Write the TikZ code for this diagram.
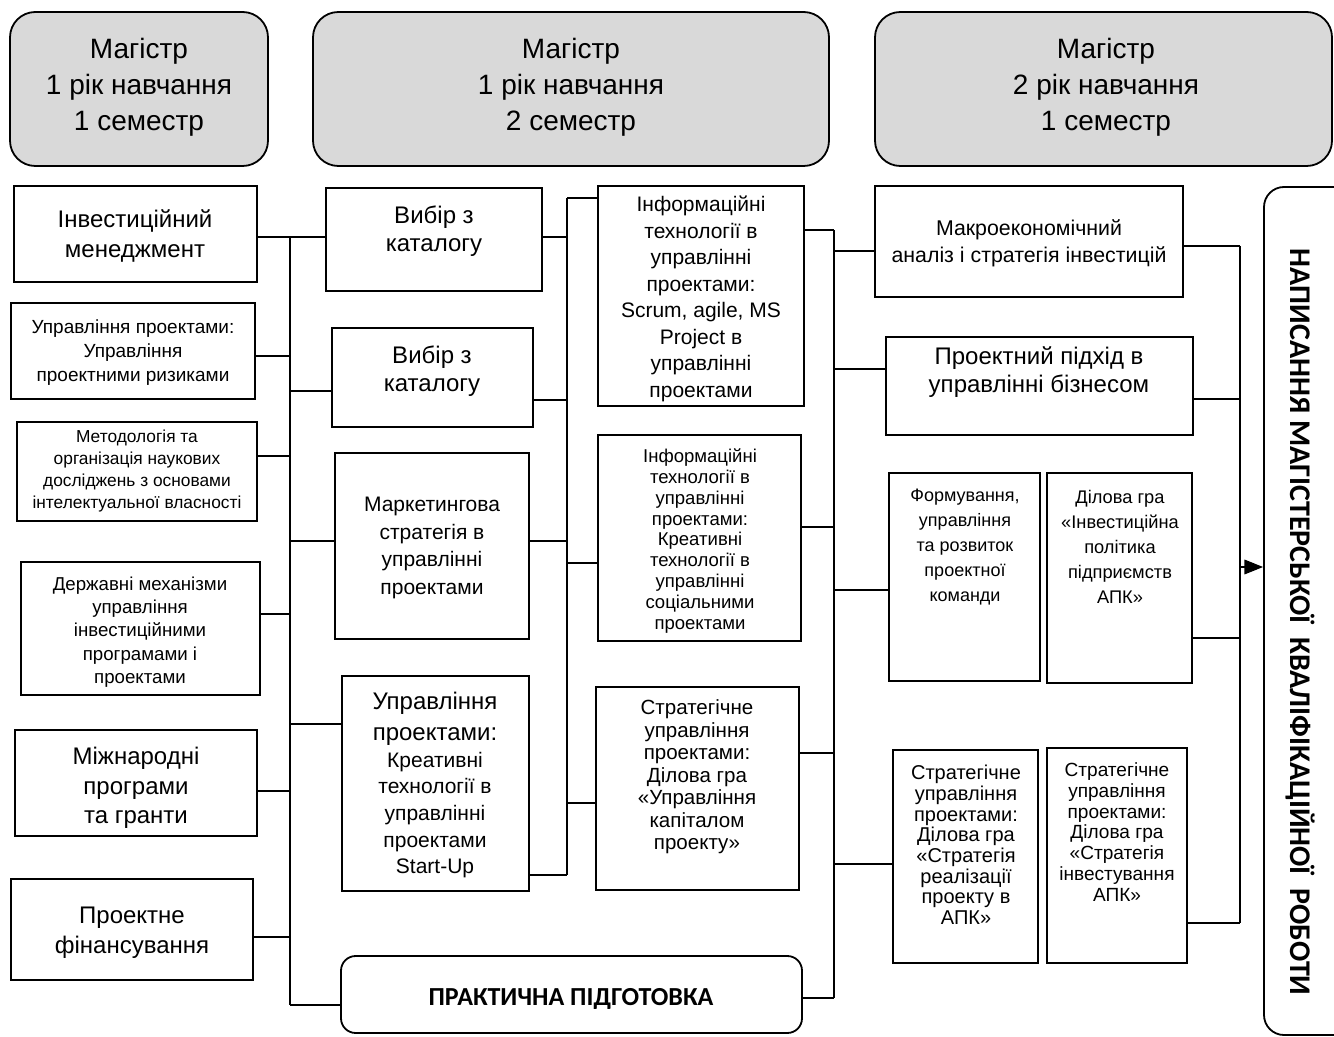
\documentclass[tikz,border=0pt]{standalone}
\usepackage{fontspec}
\setmainfont{Liberation Sans}
\newfontfamily\carl{Carlito}
\usetikzlibrary{arrows.meta}
\definecolor{hdrgray}{HTML}{D9D9D9}
\newcommand\fsz[2]{\fontsize{#1pt}{#2pt}\selectfont}
\newcommand\mkbox[6]{\node[box,#6,minimum width={((#4)-(#2))*0.75pt},minimum height={((#5)-(#3))*0.75pt}] (#1) at ({((#2)+(#4))/2},{((#3)+(#5))/2}) {};}
\tikzset{
  box/.style={draw, line width=1.35pt, inner sep=0pt, rectangle},
  hdr/.style={fill=hdrgray, rounded corners=19pt},
  rnd/.style={rounded corners=11pt},
  txt/.style={align=center, inner sep=0pt, yshift=-1.5pt},
  conn/.style={line width=1.3pt},
  thinc/.style={line width=0.9pt},
}
\begin{document}
\begin{tikzpicture}[x=0.75pt,y=-0.75pt]
\useasboundingbox (0,0) rectangle (1334,1037);
\fill[white] (0,0) rectangle (1334,1037);
\clip (0,0) rectangle (1334,1037);

% headers
\mkbox{H1}{10}{12}{268}{166}{hdr}
\mkbox{H2}{313}{12}{829}{166}{hdr}
\mkbox{H3}{875}{12}{1332}{166}{hdr}
\node[txt,font=\fsz{21}{27}] (tH1) at (139,85) {Магістр\\1 рік навчання\\1 семестр};
\node[txt,font=\fsz{21}{27}] (tH2) at (571,85) {Магістр\\1 рік навчання\\2 семестр};
\node[txt,font=\fsz{21}{27}] (tH3) at (1106,85) {Магістр\\2 рік навчання\\1 семестр};

% left column
\mkbox{L1}{14}{186}{257}{282}{}
\mkbox{L2}{11}{303}{255}{399}{}
\mkbox{L3}{17}{422}{257}{521}{}
\mkbox{L4}{21}{562}{260}{695}{}
\mkbox{L5}{15}{730}{257}{836}{}
\mkbox{L6}{11}{879}{253}{980}{}
\node[txt,font=\fsz{18}{22}] (tL1) at (135,234) {Інвестиційний\\менеджмент};
\node[txt,font=\fsz{14.25}{18}] (tL2) at (133,351) {Управління проектами:\\Управління\\проектними ризиками};
\node[txt,font=\fsz{13}{16.5}] (tL3) at (137,469) {Методологія та\\організація наукових\\досліджень з основами\\інтелектуальної власності};
\node[txt,font=\fsz{14}{17.5}] (tL4) at (140,630) {Державні механізми\\управління\\інвестиційними\\програмами і\\проектами};
\node[txt,font=\fsz{18}{22}] (tL5) at (136,786) {Міжнародні\\програми\\та гранти};
\node[txt,font=\fsz{18}{22.5}] (tL6) at (132,931) {Проектне\\фінансування};

% middle column 1
\mkbox{M1}{326}{188}{542}{291}{}
\mkbox{M2}{332}{328}{533}{427}{}
\mkbox{M3}{335}{453}{529}{639}{}
\mkbox{M4}{342}{676}{529}{891}{}
\mkbox{PR}{341}{956}{802}{1033}{rnd}
\node[txt,font=\fsz{18}{21}] (tM1) at (434,229) {Вибір з\\каталогу};
\node[txt,font=\fsz{18}{21}] (tM2) at (432,369) {Вибір з\\каталогу};
\node[txt,font=\fsz{15.75}{20.6}] (tM3) at (432,546) {Маркетингова\\стратегія в\\управлінні\\проектами};
\node[txt,font=\fsz{18}{23}] (tM4a) at (435,717) {Управління\\проектами:};
\node[txt,font=\fsz{15.75}{20}] (tM4b) at (435,813) {Креативні\\технології в\\управлінні\\проектами\\Start-Up};
\node[txt,font=\carl\bfseries\fsz{19.5}{22}] (tPR) at (571,997) {ПРАКТИЧНА ПІДГОТОВКА};

% middle column 2
\mkbox{I1}{598}{186}{804}{406}{}
\mkbox{I2}{598}{435}{801}{641}{}
\mkbox{I3}{596}{687}{799}{890}{}
\node[txt,font=\fsz{15.75}{19.9}] (tI1) at (701,297) {Інформаційні\\технології в\\управлінні\\проектами:\\Scrum, agile, MS\\Project в\\управлінні\\проектами};
\node[txt,font=\fsz{13.9}{15.6}] (tI2) at (700,539) {Інформаційні\\технології в\\управлінні\\проектами:\\Креативні\\технології в\\управлінні\\соціальними\\проектами};
\node[txt,font=\fsz{15.4}{16.9}] (tI3) at (697,775) {Стратегічне\\управління\\проектами:\\Ділова гра\\«Управління\\капіталом\\проекту»};

% right column
\mkbox{MA}{875}{186}{1183}{297}{}
\mkbox{PB}{886}{337}{1193}{435}{}
\mkbox{F}{889}{473}{1040}{681}{}
\mkbox{D}{1047}{473}{1192}{683}{}
\mkbox{S1}{893}{750}{1038}{963}{}
\mkbox{S2}{1047}{748}{1187}{963}{}
\node[txt,font=\fsz{16}{20}] (tMA) at (1029,241) {Макроекономічний\\аналіз і стратегія інвестицій};
\node[txt,font=\fsz{18}{21}] (tPB) at (1039,370) {Проектний підхід в\\управлінні бізнесом};
\node[txt,font=\fsz{13.5}{18.75}] (tF) at (965,545) {Формування,\\управління\\та розвиток\\проектної\\команди};
\node[txt,font=\fsz{13.7}{18.75}] (tD) at (1120,545) {Ділова гра\\«Інвестиційна\\політика\\підприємств\\АПК»};
\node[txt,font=\fsz{15}{15.5}] (tS1) at (966,843) {Стратегічне\\управління\\проектами:\\Ділова гра\\«Стратегія\\реалізації\\проекту в\\АПК»};
\node[txt,font=\fsz{14.3}{15.6}] (tS2) at (1117,830) {Стратегічне\\управління\\проектами:\\Ділова гра\\«Стратегія\\інвестування\\АПК»};

% final box
\mkbox{W}{1264}{187}{1365}{1035}{rounded corners=15pt}
\node[align=center,inner sep=0pt,rotate=-90,font=\carl\bfseries\fsz{22.5}{26}] (tW) at (1300,622) {НАПИСАННЯ МАГІСТЕРСЬКОЇ\ \ КВАЛІФІКАЦІЙНОЇ\ \ РОБОТИ};

% bus coordinates
\coordinate (b1) at (290,237);
\coordinate (b2) at (567,198);
\coordinate (b3) at (834,230);
\coordinate (b4) at (1240,246);

% bus 1
\draw[conn] (b1) -- (290,1005);
\draw[conn] (L1.east |- 0,237) -- (M1.west |- 0,237);
\draw[conn] (L2.east |- 0,356) -- (b1 |- 0,356);
\draw[conn] (L3.east |- 0,456) -- (b1 |- 0,456);
\draw[conn] (L4.east |- 0,614) -- (b1 |- 0,614);
\draw[conn] (L5.east |- 0,791) -- (b1 |- 0,791);
\draw[conn] (L6.east |- 0,937) -- (b1 |- 0,937);
\draw[conn] (b1 |- 0,391) -- (M2.west |- 0,391);
\draw[conn] (b1 |- 0,541) -- (M3.west |- 0,541);
\draw[conn] (b1 |- 0,724) -- (M4.west |- 0,724);
\draw[conn] (b1 |- 0,1005) -- (PR.west |- 0,1005);

% bus 2
\draw[conn] (b2) -- (567,875);
\draw[conn] (M1.east |- 0,237) -- (b2 |- 0,237);
\draw[conn] (M2.east |- 0,400) -- (b2 |- 0,400);
\draw[conn] (M3.east |- 0,541) -- (b2 |- 0,541);
\draw[conn] (M4.east |- 0,875) -- (b2 |- 0,875);
\draw[conn] (b2) -- (I1.west |- 0,198);
\draw[conn] (b2 |- 0,563) -- (I2.west |- 0,563);
\draw[conn] (b2 |- 0,803) -- (I3.west |- 0,803);

% bus 3
\draw[conn] (b3) -- (834,998);
\draw[conn] (I1.east |- 0,230) -- (b3);
\draw[conn] (I2.east |- 0,527) -- (b3 |- 0,527);
\draw[conn] (I3.east |- 0,753) -- (b3 |- 0,753);
\draw[conn] (PR.east |- 0,998) -- (b3 |- 0,998);
\draw[conn] (b3 |- 0,251) -- (MA.west |- 0,251);
\draw[conn] (b3 |- 0,369) -- (PB.west |- 0,369);
\draw[conn] (b3 |- 0,590) -- (F.west |- 0,590);
\draw[conn] (b3 |- 0,864) -- (S1.west |- 0,864);

% bus 4
\draw[thinc] (b4) -- (1240,923);
\draw[thinc] (MA.east |- 0,246) -- (b4);
\draw[thinc] (PB.east |- 0,399) -- (b4 |- 0,399);
\draw[thinc] (D.east |- 0,638) -- (b4 |- 0,638);
\draw[thinc] (S2.east |- 0,923) -- (b4 |- 0,923);
\draw[thinc,-{Triangle[length=14pt,width=11pt]}] (b4 |- 0,567) -- (W.west |- 0,567);
\end{tikzpicture}
\end{document}
